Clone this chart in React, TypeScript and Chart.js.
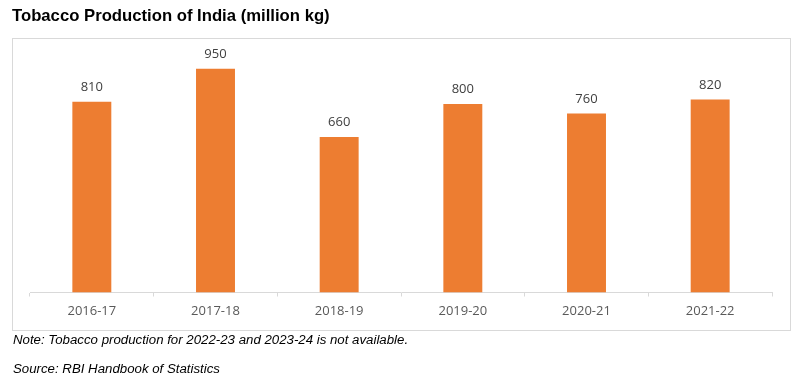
import React, { useEffect, useRef } from "react";
import { Chart, registerables } from "chart.js";

Chart.register(...registerables);

const categories = ["2016-17", "2017-18", "2018-19", "2019-20", "2020-21", "2021-22"];
const production = [810, 950, 660, 800, 760, 820];

const labelPlugin = {
  id: "barLabels",
  afterDatasetsDraw(chart: any) {
    const ctx = chart.ctx;
    const meta = chart.getDatasetMeta(0);
    ctx.save();
    ctx.font = "13px 'Open Sans'";
    ctx.fillStyle = "#404040";
    ctx.textAlign = "center";
    ctx.textBaseline = "bottom";
    meta.data.forEach((bar: any, i: number) => {
      ctx.fillText(String(production[i]), bar.x, bar.y - 8);
    });
    ctx.restore();
  },
};

export default function App() {
  const ref = useRef<HTMLCanvasElement>(null);
  useEffect(() => {
    document.body.style.margin = "0";
    const chart = new Chart(ref.current!, {
      type: "bar",
      data: {
        labels: categories,
        datasets: [
          {
            data: production,
            backgroundColor: "#ED7D31",
            barPercentage: 0.63,
            categoryPercentage: 0.5,
          },
        ],
      },
      options: {
        animation: false,
        responsive: false,
        layout: { padding: { left: 30, right: 26, top: 57, bottom: 0 } },
        plugins: { legend: { display: false }, tooltip: { enabled: false } },
        scales: {
          y: { display: false, min: 0, max: 1000 },
          x: {
            afterFit: (s: any) => {
              s.height = 384 - 292.5;
            },
            grid: {
              drawOnChartArea: false,
              drawTicks: true,
              tickLength: 4,
              color: "#d9d9d9",
              offset: true,
            },
            border: { color: "#d9d9d9" },
            ticks: {
              padding: 7,
              color: "#595959",
              font: { family: "'Open Sans'", size: 13 },
            },
          },
        },
      },
      plugins: [labelPlugin],
    });
    return () => chart.destroy();
  }, []);
  return (
    <div style={{ position: "relative", width: 798, height: 384, background: "#fff", fontFamily: "'Liberation Sans', Arial, sans-serif" }}>
      <div style={{ position: "absolute", left: 12, top: 38, width: 777, height: 291, border: "1px solid #d9d9d9" }} />
      <canvas ref={ref} width={798} height={384} style={{ position: "absolute", left: 0, top: 0 }} />
      <div style={{ position: "absolute", left: 12, top: 6, fontSize: 16.7, fontWeight: "bold", color: "#000", whiteSpace: "nowrap" }}>
        Tobacco Production of India (million kg)
      </div>
      <div style={{ position: "absolute", left: 13, top: 332, fontSize: 13.25, fontStyle: "italic", color: "#000", whiteSpace: "nowrap" }}>
        Note: Tobacco production for 2022-23 and 2023-24 is not available.
      </div>
      <div style={{ position: "absolute", left: 13, top: 361, fontSize: 13.25, fontStyle: "italic", color: "#000", whiteSpace: "nowrap" }}>
        Source: RBI Handbook of Statistics
      </div>
    </div>
  );
}
